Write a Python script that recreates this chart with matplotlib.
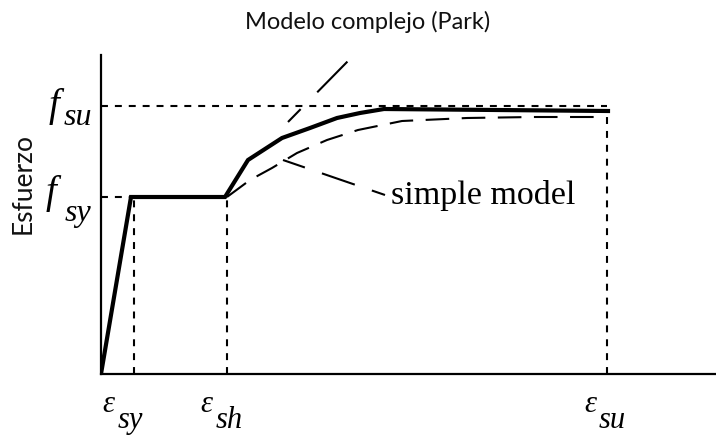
import matplotlib
matplotlib.use("Agg")
import matplotlib.pyplot as plt

plt.rcParams['lines.scale_dashes'] = False

# key points of the stress-strain diagram (arbitrary drawing units)
eps_sy = 3.1
eps_sh = 12.6
eps_su = 50.6
f_sy = 17.7
f_su = 26.8

# complex model (Park) - solid curve
strain_park = [0, 3.0, 12.4, 14.7, 18.1, 20.9, 23.6, 25.9, 28.3, 50.7]
stress_park = [0, 17.7, 17.7, 21.4, 23.6, 24.6, 25.6, 26.1, 26.5, 26.3]

# simple model - dashed curve
strain_simple = [12.6, 14.9, 17.1, 19.6, 22.6, 25.7, 30.1, 36.6, 43.2, 50.4]
stress_simple = [17.7, 19.4, 20.6, 22.1, 23.4, 24.4, 25.3, 25.6, 25.7, 25.7]

# leader lines
simple_leader_x = [28.4, 18.2]
simple_leader_y = [17.9, 21.4]
park_leader_x = [18.7, 24.7]
park_leader_y = [25.2, 31.3]

title = "Modelo complejo (Park)"
ylabel = "Esfuerzo"

fig = plt.figure(figsize=(7.16, 4.36), dpi=100)
ax = fig.add_axes([101/716, 62/436, 615/716, 319/436])
ax.set_xlim(0, 61.5)
ax.set_ylim(0, 31.9)
for s in ['top', 'right']:
    ax.spines[s].set_visible(False)
for s in ['left', 'bottom']:
    ax.spines[s].set_linewidth(1.6)
    ax.spines[s].set_color('black')
ax.set_xticks([])
ax.set_yticks([])

# guide lines
guide = dict(color='black', lw=1.5, linestyle=(0, (5, 5)))
ax.plot([0, eps_su], [f_su, f_su], **guide)
ax.plot([0, eps_sy], [f_sy, f_sy], **guide)
ax.plot([eps_sy + 0.2, eps_sy + 0.2], [0, f_sy], **guide)
ax.plot([eps_sh, eps_sh], [0, f_sy], **guide)
ax.plot([eps_su, eps_su], [0, stress_park[-1]], **guide)

# curves
ax.plot(strain_park, stress_park, color='black', lw=3.0, solid_joinstyle='miter')
ax.plot(strain_simple, stress_simple, color='black', lw=1.5, linestyle=(0, (17, 9)))

# leaders
ax.plot(simple_leader_x, simple_leader_y, color='black', lw=1.5,
        linestyle=(0, (10, 13, 25, 13, 17, 20)))
ax.plot(park_leader_x, park_leader_y, color='black', lw=1.5,
        linestyle=(0, (13, 17, 31, 10)))
ax.text(simple_leader_x[0] + 0.6, simple_leader_y[0] - 0.9, "simple model",
        family='Liberation Serif', fontsize=24.5, ha='left', va='baseline')

# axis symbols
def sym(x, y, main, sub, dx, dy, sdx, sdy, size, subsize):
    ax.annotate(main, (x, y), xytext=(dx, dy), textcoords='offset points',
                family='Liberation Serif', style='italic', fontsize=size,
                ha='left', va='baseline', annotation_clip=False)
    ax.annotate(sub, (x, y), xytext=(sdx, sdy), textcoords='offset points',
                family='Liberation Serif', style='italic', fontsize=subsize,
                ha='left', va='baseline', annotation_clip=False)

sym(0, f_su, "f", "su", -38, -7, -27, -14, 28, 23)
sym(0, f_sy, "f", "sy", -40, -4, -26, -17, 28, 23)
sym(eps_sy, 0, "ε", "sy", -21, -27, -10, -39, 22, 22)
sym(eps_sh, 0, "ε", "sh", -19, -27, -8, -39, 22, 22)
sym(eps_su, 0, "ε", "su", -16, -27, -6, -39, 22, 22)

fig.text(368/716, 1 - 29/436, title, family='Lato', fontsize=17,
         ha='center', va='baseline', color='#111111')
fig.text(23/716, 1 - 183/436, ylabel, family='Lato', fontsize=19,
         ha='center', va='center', rotation=90, color='#111111')

fig.savefig("out.png", dpi=100)
